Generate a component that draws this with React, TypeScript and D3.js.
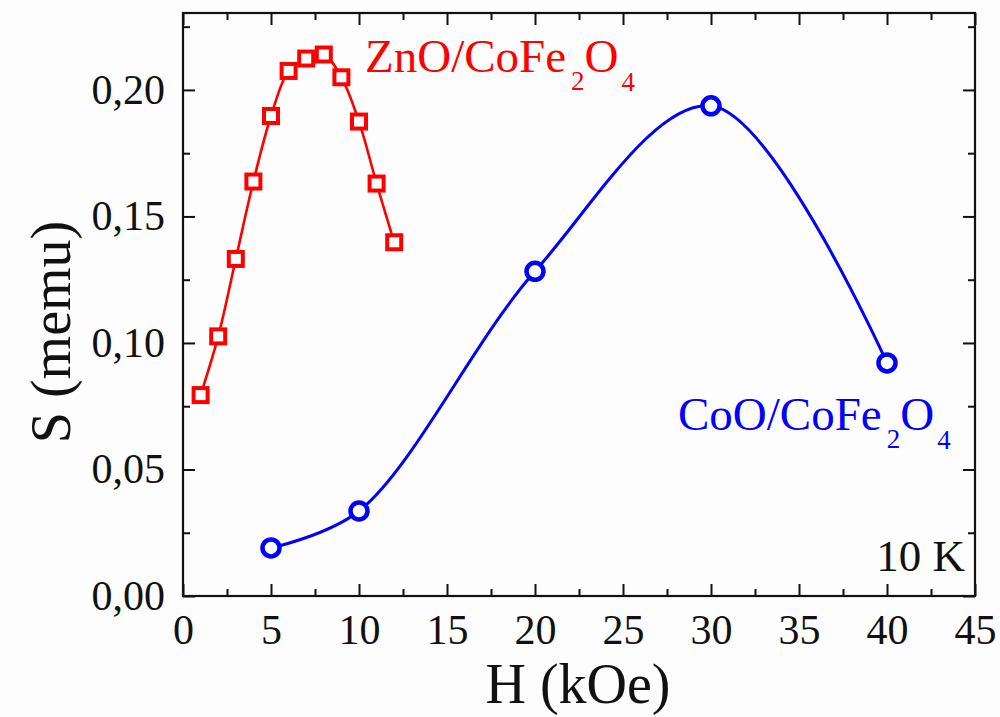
import * as d3 from "d3";
import { useEffect, useRef } from "react";

// ZnO/CoFe2O4 (red squares)
const znoField = [1, 2, 3, 4, 5, 6, 7, 8, 9, 10, 11, 12];
const znoS = [0.0794, 0.1026, 0.1332, 0.1638, 0.1897, 0.2075, 0.2124, 0.2140, 0.2050, 0.1875, 0.1630, 0.1398];

// CoO/CoFe2O4 (blue circles)
const cooField = [5, 10, 20, 30, 40];
const cooS = [0.019, 0.0336, 0.1283, 0.1937, 0.0921];

const xTicks = [0, 5, 10, 15, 20, 25, 30, 35, 40, 45];
const xMinor = [2.5, 7.5, 12.5, 17.5, 22.5, 27.5, 32.5, 37.5, 42.5];
const yTicks = [0, 0.05, 0.1, 0.15, 0.2];
const yMinor = [0.025, 0.075, 0.125, 0.175, 0.225];

const W = 1000;
const H = 717;
const serif = "'Liberation Serif', 'Times New Roman', serif";

export default function App() {
  const ref = useRef<SVGSVGElement>(null);

  useEffect(() => {
    const svg = d3.select(ref.current);
    svg.selectAll("*").remove();

    const left = 183, right = 975, top = 13, bottom = 596;
    const x = d3.scaleLinear().domain([0, 45]).range([left, right]);
    const y = d3.scaleLinear().domain([0, 0.2304]).range([bottom, top]);

    svg.append("rect").attr("width", W).attr("height", H).attr("fill", "#fdfdfd");

    const fmtY = (d: number) => d3.format(".2f")(d).replace(".", ",");

    const styleAxis = (g: any) => {
      g.select(".domain").remove();
      g.selectAll("line").attr("stroke", "#111").attr("stroke-width", 2);
      g.selectAll("text")
        .attr("font-family", serif)
        .attr("font-size", 42)
        .attr("fill", "#111");
    };

    // major ticks
    svg.append("g").attr("transform", `translate(0,${bottom})`)
      .call(d3.axisBottom(x).tickValues(xTicks).tickSize(-12).tickPadding(18).tickFormat(d3.format("d")))
      .call(styleAxis);
    svg.append("g").attr("transform", `translate(0,${top})`)
      .call(d3.axisTop(x).tickValues(xTicks).tickSize(-12).tickFormat(() => ""))
      .call(styleAxis);
    svg.append("g").attr("transform", `translate(${left},0)`)
      .call(d3.axisLeft(y).tickValues(yTicks).tickSize(-12).tickPadding(18).tickFormat(fmtY as any))
      .call(styleAxis);
    svg.append("g").attr("transform", `translate(${right},0)`)
      .call(d3.axisRight(y).tickValues(yTicks).tickSize(-12).tickFormat(() => ""))
      .call(styleAxis);

    // minor ticks
    svg.append("g").attr("transform", `translate(0,${bottom})`)
      .call(d3.axisBottom(x).tickValues(xMinor).tickSize(-7).tickFormat(() => ""))
      .call(styleAxis);
    svg.append("g").attr("transform", `translate(0,${top})`)
      .call(d3.axisTop(x).tickValues(xMinor).tickSize(-7).tickFormat(() => ""))
      .call(styleAxis);
    svg.append("g").attr("transform", `translate(${left},0)`)
      .call(d3.axisLeft(y).tickValues(yMinor).tickSize(-7).tickFormat(() => ""))
      .call(styleAxis);
    svg.append("g").attr("transform", `translate(${right},0)`)
      .call(d3.axisRight(y).tickValues(yMinor).tickSize(-7).tickFormat(() => ""))
      .call(styleAxis);

    // frame
    svg.append("rect")
      .attr("x", left).attr("y", top)
      .attr("width", right - left).attr("height", bottom - top)
      .attr("fill", "none").attr("stroke", "#111").attr("stroke-width", 2.2);

    const line = d3.line<[number, number]>()
      .x((d) => x(d[0]))
      .y((d) => y(d[1]))
      .curve(d3.curveCatmullRom.alpha(0.5));

    const znoPts: [number, number][] = znoField.map((f, i) => [f, znoS[i]]);
    const cooPts: [number, number][] = cooField.map((f, i) => [f, cooS[i]]);

    svg.append("path").attr("d", line(cooPts))
      .attr("fill", "none").attr("stroke", "#0000ff").attr("stroke-width", 3);
    svg.append("path").attr("d", line(znoPts))
      .attr("fill", "none").attr("stroke", "#ff0000").attr("stroke-width", 2.6);

    const sq = 14;
    svg.append("g").selectAll("rect").data(znoPts).join("rect")
      .attr("x", (d) => x(d[0]) - sq / 2)
      .attr("y", (d) => y(d[1]) - sq / 2)
      .attr("width", sq).attr("height", sq)
      .attr("fill", "#fff").attr("stroke", "#ff0000").attr("stroke-width", 4);

    svg.append("g").selectAll("circle").data(cooPts).join("circle")
      .attr("cx", (d) => x(d[0]))
      .attr("cy", (d) => y(d[1]))
      .attr("r", 8.5)
      .attr("fill", "#fff").attr("stroke", "#0000ff").attr("stroke-width", 4.5);

    // series labels with subscripts
    const label = (tx: number, ty: number, color: string, head: string) => {
      const t = svg.append("text")
        .attr("x", tx).attr("y", ty)
        .attr("font-family", serif).attr("font-size", 47).attr("fill", color);
      t.append("tspan").text(head);
      t.append("tspan").attr("dx", 5).attr("dy", 18).attr("font-size", 27).text("2");
      t.append("tspan").attr("dy", -18).text("O");
      t.append("tspan").attr("dx", 3).attr("dy", 19).attr("font-size", 27).text("4");
    };
    label(365, 72, "#ff0000", "ZnO/CoFe");
    label(678, 430, "#0000ff", "CoO/CoFe");

    svg.append("text")
      .attr("x", 965).attr("y", 571).attr("text-anchor", "end")
      .attr("font-family", serif).attr("font-size", 45).attr("fill", "#111")
      .text("10 K");

    // axis titles
    svg.append("text")
      .attr("x", (left + right) / 2 - 1).attr("y", 703).attr("text-anchor", "middle")
      .attr("font-family", serif).attr("font-size", 56).attr("fill", "#111")
      .text("H (kOe)");
    svg.append("text")
      .attr("transform", `translate(70,332) rotate(-90)`)
      .attr("text-anchor", "middle")
      .attr("font-family", serif).attr("font-size", 56).attr("fill", "#111")
      .text("S (memu)");
  }, []);

  return (
    <svg
      ref={ref}
      width={W}
      height={H}
      style={{ position: "absolute", left: 0, top: 0, display: "block" }}
    />
  );
}
